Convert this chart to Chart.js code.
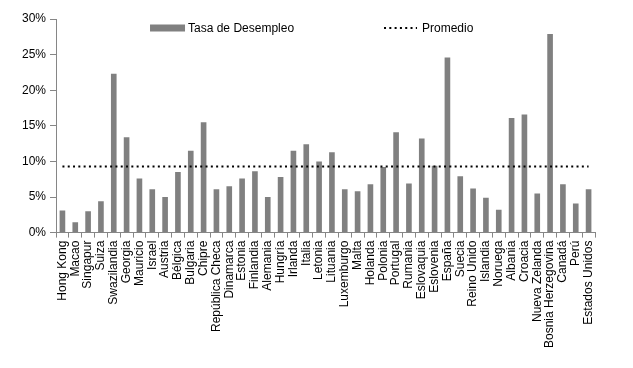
<!DOCTYPE html>
<html>
<head>
<meta charset="utf-8">
<script src="https://cdn.jsdelivr.net/npm/chart.js@4.4.1/dist/chart.umd.min.js"></script>
<style>
  html, body { margin: 0; padding: 0; background: #fff; }
  #wrap { position: relative; width: 633px; height: 368px; }
</style>
</head>
<body>
<div id="wrap"><canvas id="desempleoChart"></canvas></div>
<script>
// --- Datos ---
const paises = [
    'Hong Kong', 'Macao', 'Singapur', 'Suiza', 'Swazilandia', 'Georgia', 'Mauricio',
    'Israel', 'Austria', 'Bélgica', 'Bulgaria', 'Chipre', 'República Checa', 'Dinamarca',
    'Estonia', 'Finlandia', 'Alemania', 'Hungría', 'Irlanda', 'Italia', 'Letonia',
    'Lituania', 'Luxemburgo', 'Malta', 'Holanda', 'Polonia', 'Portugal', 'Rumania',
    'Eslovaquia', 'Eslovenia', 'España', 'Suecia', 'Reino Unido', 'Islandia', 'Noruega',
    'Albania', 'Croacia', 'Nueva Zelanda', 'Bosnia Herzegovina', 'Canadá', 'Perú', 'Estados Unidos'
];
const tasaDesempleo = [
    3.1, 1.45, 3.0, 4.4, 22.3, 13.4, 7.6,
    6.1, 5.0, 8.5, 11.5, 15.5, 6.1, 6.5,
    7.6, 8.6, 5.0, 7.8, 11.5, 12.4, 10.0,
    11.3, 6.1, 5.8, 6.8, 9.2, 14.1, 6.9,
    13.2, 9.4, 24.6, 7.9, 6.2, 4.9, 3.2,
    16.1, 16.6, 5.5, 27.9, 6.8, 4.1, 6.1
];
const PROMEDIO = 9.3;
const promedio = paises.map(() => PROMEDIO);
const ticksY = [0, 5, 10, 15, 20, 25, 30];

const FUENTE = '12px "Liberation Sans", Arial, sans-serif';

// --- Leyenda dentro del area del grafico ---
const leyendaInterna = {
    id: 'leyendaInterna',
    afterDraw(chart, args, opts) {
        const { ctx, chartArea } = chart;
        ctx.save();
        ctx.font = FUENTE;
        ctx.textBaseline = 'middle';
        ctx.fillStyle = '#000';
        const y = chartArea.top + opts.y;
        opts.items.forEach((it, i) => {
            const ds = chart.data.datasets[i];
            const x = chartArea.left + it.x;
            if (ds.type === 'line') {
                ctx.save();
                ctx.strokeStyle = ds.borderColor;
                ctx.lineWidth = ds.borderWidth;
                ctx.setLineDash(ds.borderDash);
                ctx.beginPath();
                ctx.moveTo(x, y);
                ctx.lineTo(x + it.w, y);
                ctx.stroke();
                ctx.restore();
            } else {
                ctx.fillStyle = ds.backgroundColor;
                ctx.fillRect(x, y - 3.5, it.w, 7);
                ctx.fillStyle = '#000';
            }
            ctx.fillText(ds.label, x + it.w + it.gap, y + 1);
        });
        ctx.restore();
    }
};

function initChart() {
    const ctx = document.getElementById('desempleoChart').getContext('2d');
    Chart.defaults.font.family = '"Liberation Sans", Arial, sans-serif';
    Chart.defaults.font.size = 12;
    Chart.defaults.color = '#000';

    new Chart(ctx, {
        type: 'bar',
        data: {
            labels: paises,
            datasets: [
                {
                    type: 'bar', label: 'Tasa de Desempleo', data: tasaDesempleo,
                    backgroundColor: '#808080', borderWidth: 0,
                    barPercentage: 0.44, categoryPercentage: 1.0, order: 2
                },
                {
                    type: 'line', label: 'Promedio', data: promedio,
                    borderColor: '#000', borderWidth: 2, borderDash: [2, 3.3],
                    pointRadius: 0, fill: false, order: 1
                }
            ]
        },
        options: {
            responsive: true,
            maintainAspectRatio: false,
            animation: false,
            layout: { padding: { left: 18, right: 38, top: 19, bottom: 17 } },
            scales: {
                x: {
                    offset: true,
                    grid: { display: true, drawOnChartArea: false, offset: true, tickLength: 5, color: '#868686' },
                    border: { color: '#868686' },
                    ticks: { autoSkip: false, maxRotation: 90, minRotation: 90, padding: 3, color: '#000' }
                },
                y: {
                    min: 0, max: 30,
                    afterBuildTicks: (axis) => { axis.ticks = ticksY.map(v => ({ value: v })); },
                    grid: { display: true, drawOnChartArea: false, tickLength: 6, color: '#868686' },
                    border: { color: '#868686' },
                    ticks: { padding: 4, color: '#000', callback: (v) => v + '%' }
                }
            },
            plugins: {
                legend: { display: false },
                tooltip: { enabled: false },
                leyendaInterna: {
                    y: 9,
                    items: [
                        { x: 94, w: 35, gap: 3 },
                        { x: 328, w: 33, gap: 5 }
                    ]
                }
            }
        },
        plugins: [leyendaInterna]
    });
}

document.addEventListener('DOMContentLoaded', initChart);
</script>
</body>
</html>
